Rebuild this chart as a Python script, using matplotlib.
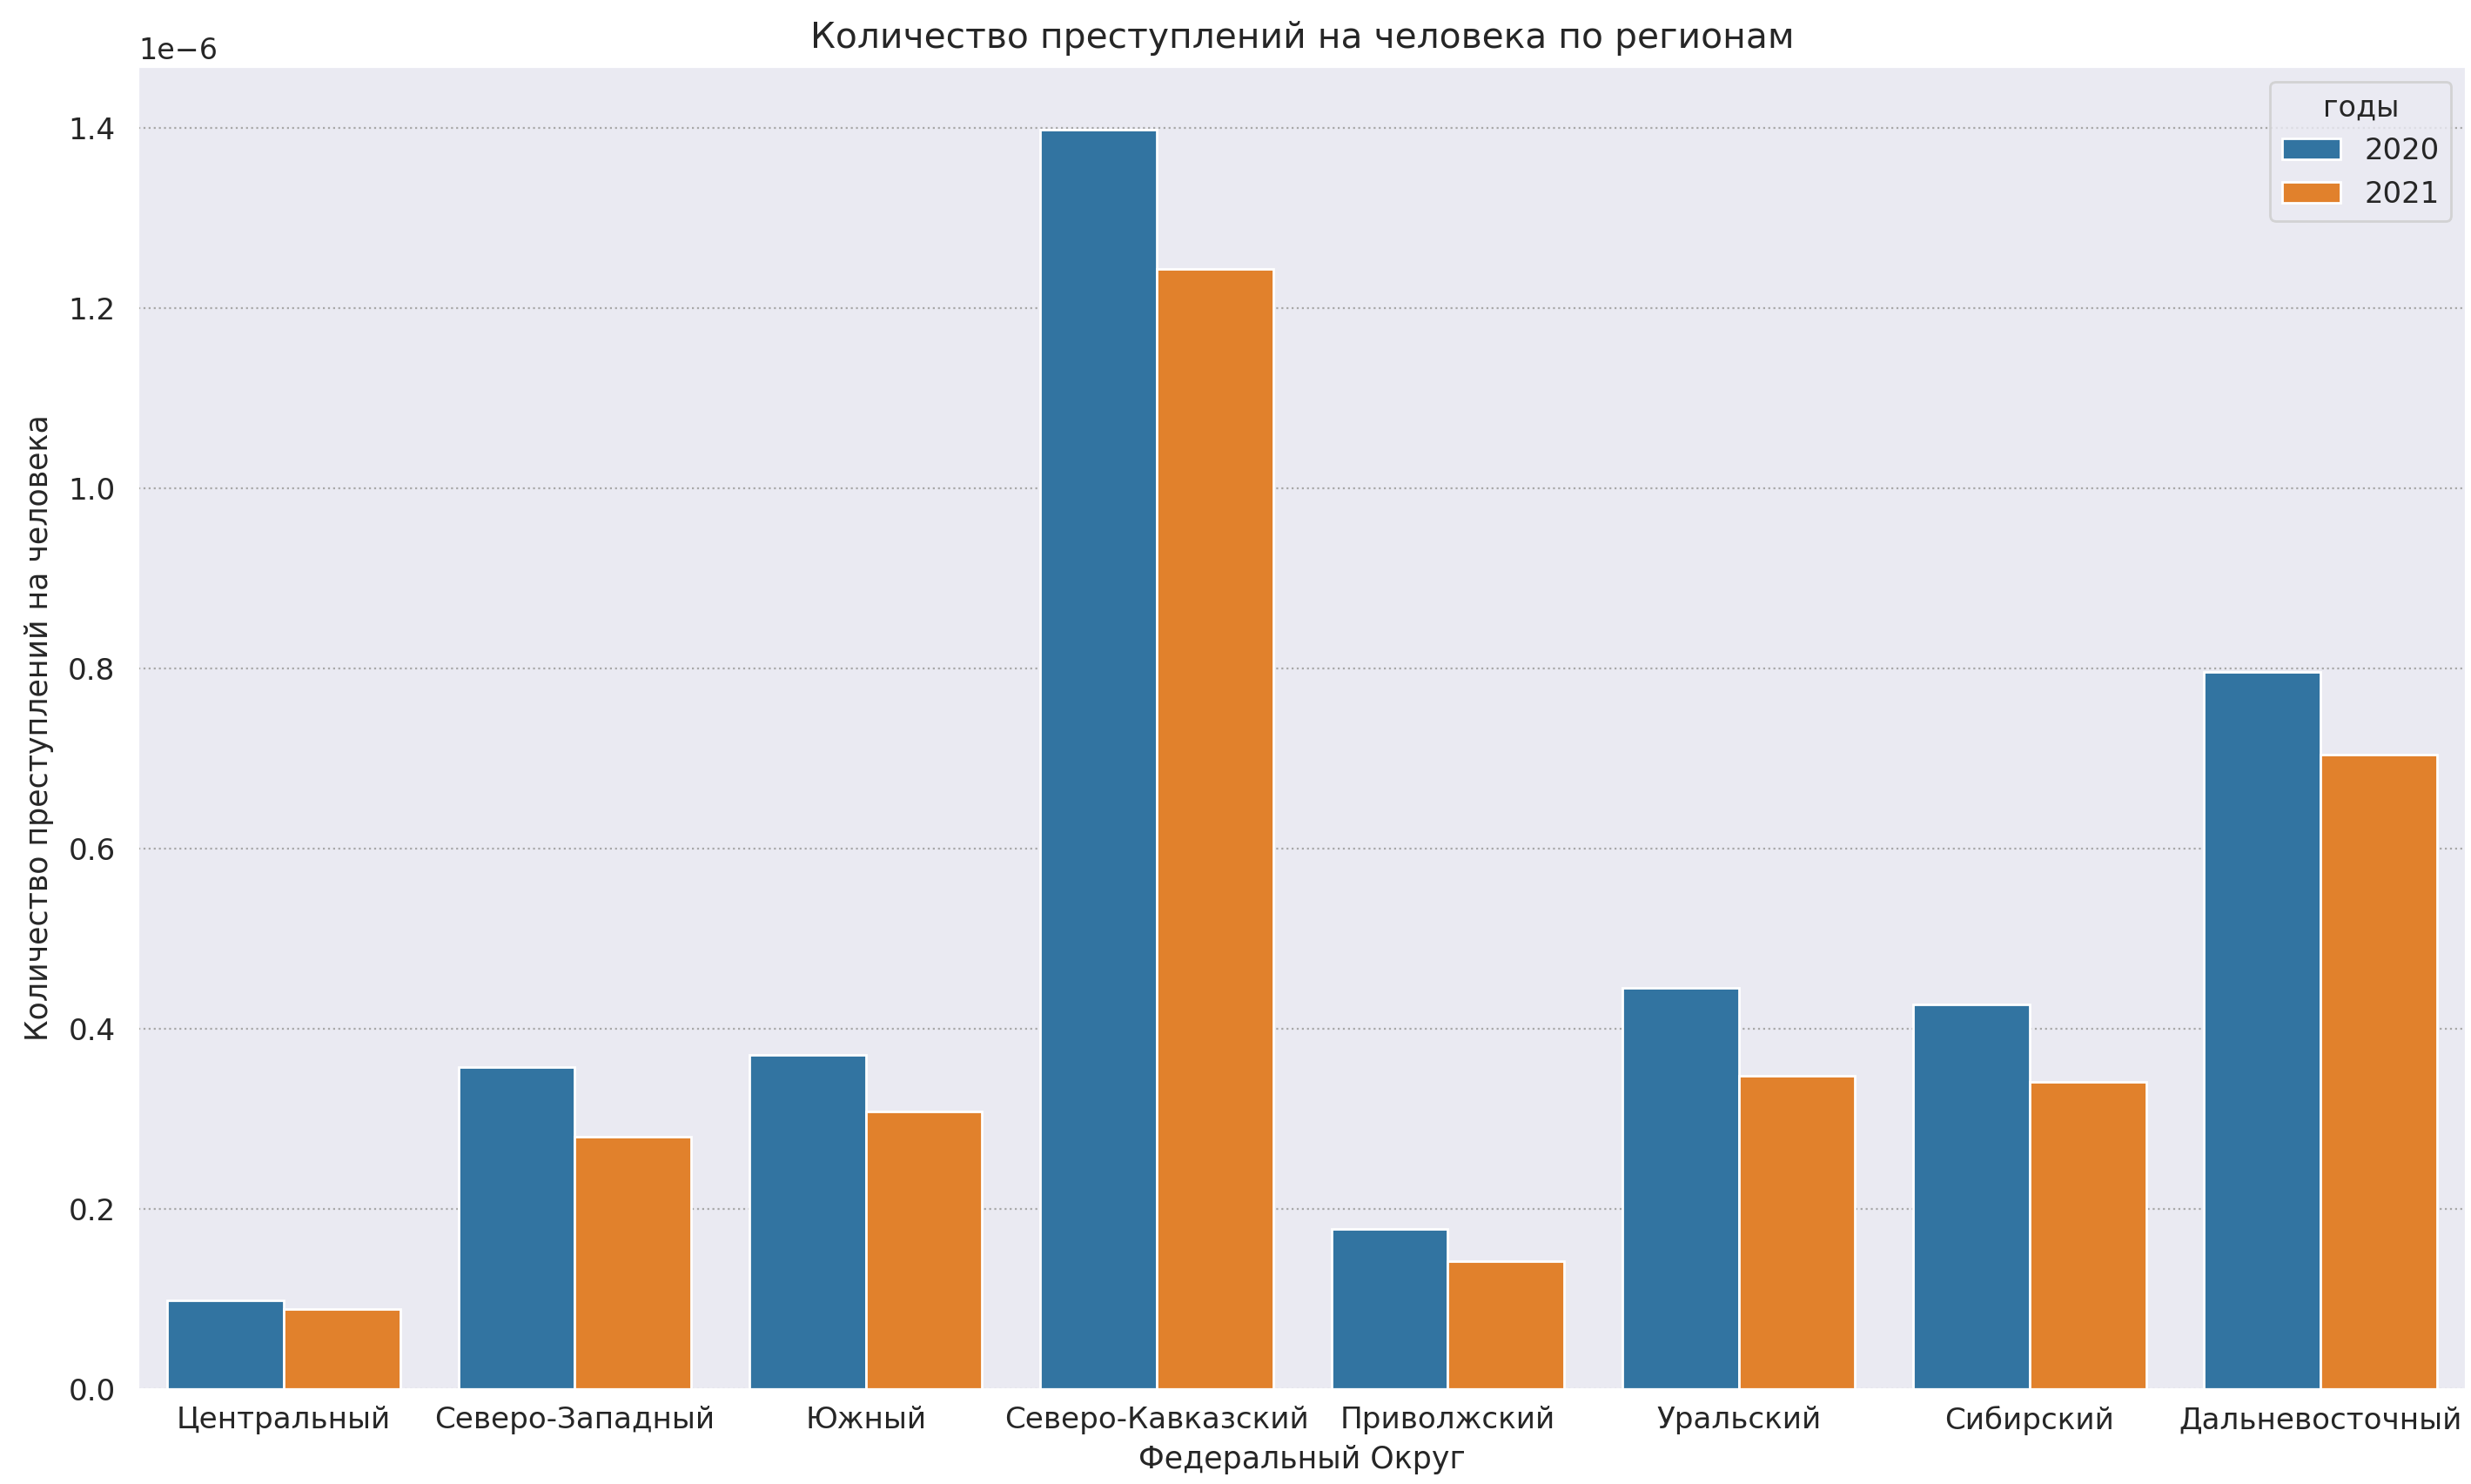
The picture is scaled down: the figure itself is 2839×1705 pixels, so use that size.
import pandas as pd
import matplotlib.pyplot as plt
import seaborn as sns

regions = ['Центральный', 'Северо-Западный', 'Южный', 'Северо-Кавказский',
           'Приволжский', 'Уральский', 'Сибирский', 'Дальневосточный']
crimes_2020 = [0.098e-6, 0.357e-6, 0.371e-6, 1.398e-6, 0.178e-6, 0.445e-6, 0.427e-6, 0.796e-6]
crimes_2021 = [0.089e-6, 0.280e-6, 0.308e-6, 1.243e-6, 0.142e-6, 0.348e-6, 0.341e-6, 0.704e-6]
years = ['2020', '2021']

df = pd.DataFrame({
    'Федеральный Округ': regions * 2,
    'value': crimes_2020 + crimes_2021,
    'годы': [years[0]] * len(regions) + [years[1]] * len(regions),
})

sns.set_style('darkgrid', {'grid.linestyle': ':', 'grid.color': '#a8a8a8'})
plt.rcParams['font.family'] = ['DejaVu Sans']

fig = plt.figure(figsize=(14.195, 8.525), dpi=200)
ax = sns.barplot(data=df, x='Федеральный Округ', y='value', hue='годы')
fig.subplots_adjust(left=0.056, right=0.998, bottom=0.064, top=0.955)

ax.set_title('Количество преступлений на человека по регионам', fontsize=14.7, pad=8)
ax.set_xlabel('Федеральный Округ', fontsize=12.5)
ax.set_ylabel('Количество преступлений на человека', fontsize=12.5, labelpad=6)
ax.tick_params(axis='both', labelsize=12.3)
ax.tick_params(axis='y', pad=6)
ax.yaxis.get_offset_text().set_fontsize(12)
ax.grid(axis='x', visible=False)
leg = ax.legend(title='годы', loc='upper right', fontsize=12.2, title_fontsize=12)

plt.savefig('out.png', dpi=200)
